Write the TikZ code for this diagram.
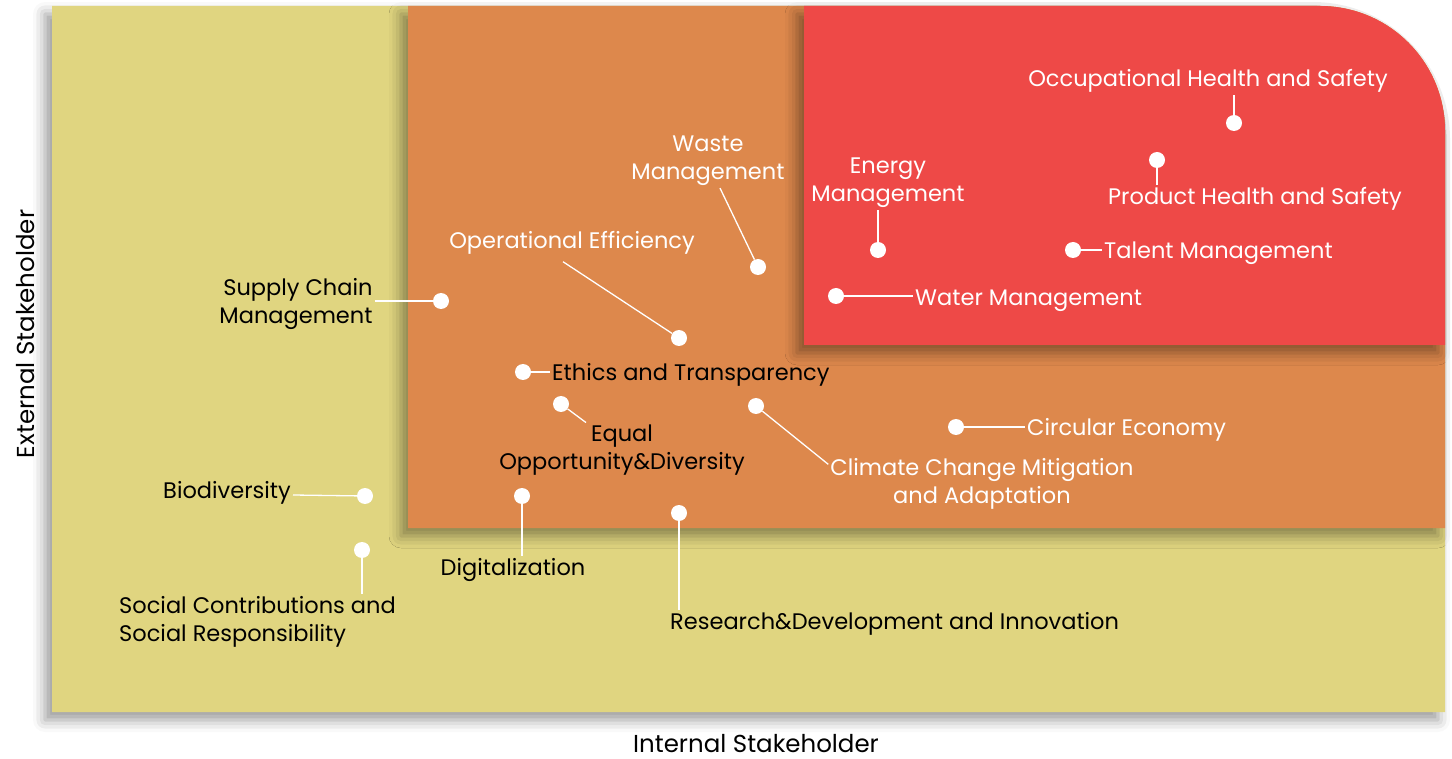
\documentclass[tikz,border=0pt]{standalone}
\usepackage{fontspec}
\setmainfont{Poppins}
\usetikzlibrary{shadows.blur}
\definecolor{matyellow}{HTML}{E0D580}
\definecolor{matorange}{HTML}{DD884C}
\definecolor{matred}{HTML}{EE4947}
\tikzset{
  dot/.style={circle, fill=white, inner sep=0pt, minimum size=16pt},
  lead/.style={white, line width=1.3pt},
  wlabel/.style={white, font=\fontsize{22.5}{28}\selectfont, align=center,
    inner sep=2pt, yshift=-3pt},
  blabel/.style={wlabel, black},
  axislabel/.style={black, font=\fontsize{24.5}{30}\selectfont, inner sep=0pt},
  boxshadow/.style={blur shadow={shadow xshift=-7pt, shadow yshift=-8pt,
    shadow blur radius=12pt, shadow opacity=40}}
}
\begin{document}
\begin{tikzpicture}[x=1pt, y=-1pt]
  \useasboundingbox (0,0) rectangle (1452,759);
  % areas
  \fill[matyellow, boxshadow] (52,712) -- (52,6) -- (1320,6)
    .. controls (1389,6) and (1445,62) .. (1445,131) -- (1445,712) -- cycle;
  \fill[matorange, boxshadow] (408,528) -- (408,6) -- (1320,6)
    .. controls (1389,6) and (1445,62) .. (1445,131) -- (1445,528) -- cycle;
  \fill[matred, boxshadow] (804,345) -- (804,6) -- (1320,6)
    .. controls (1389,6) and (1445,62) .. (1445,131) -- (1445,345) -- cycle;
  % axes
  \node[axislabel] (intl) at (756,744) {Internal Stakeholder};
  \node[axislabel, rotate=90] (extl) at (26,334) {External Stakeholder};
  % red area
  \node[dot] (ohsdot) at (1234,123) {};
  \node[wlabel] (ohs) at (1208,78) {Occupational Health and Safety};
  \draw[lead] (ohsdot) -- (ohsdot |- ohs.south);
  \node[dot] (phsdot) at (1157,160) {};
  \node[wlabel] (phs) at (1255,196) {Product Health and Safety};
  \draw[lead] (phsdot) -- (phsdot |- phs.north);
  \node[dot] (tmdot) at (1073,250) {};
  \node[wlabel, anchor=west] (tm) at (1102,250) {Talent Management};
  \draw[lead] (tmdot) -- (tmdot -| tm.west);
  \node[dot] (wmdot) at (836,296) {};
  \node[wlabel, anchor=west] (wm) at (913,298) {Water Management};
  \draw[lead] (wmdot) -- (wmdot -| wm.west);
  \node[dot] (enmdot) at (878,250) {};
  \node[wlabel] (enm) at (888,180) {Energy\\Management};
  \draw[lead] (enmdot) -- (enmdot |- enm.south);
  % orange area
  \node[dot] (wastedot) at (758,267) {};
  \node[wlabel] (waste) at (708,158) {Waste\\Management};
  \draw[lead] ([xshift=12pt]waste.south) -- (wastedot);
  \node[dot] (opeffdot) at (679,338) {};
  \node[wlabel] (opeff) at (572,240) {Operational Efficiency};
  \draw[lead] ([xshift=-9pt, yshift=-5pt]opeff.south) -- (opeffdot);
  \node[dot] (scmdot) at (441,301) {};
  \node[blabel, align=right] (scm) at (296,301) {Supply Chain\\Management};
  \draw[lead] (scmdot -| scm.east) -- (scmdot);
  \node[dot] (ethdot) at (523,372) {};
  \node[blabel, anchor=west] (eth) at (550,372) {Ethics and Transparency};
  \draw[lead] (ethdot) -- (ethdot -| eth.west);
  \node[dot] (eqopdot) at (561,404) {};
  \node[blabel] (eqop) at (622,447) {Equal\\Opportunity\&Diversity};
  \draw[lead] (eqopdot) -- ([xshift=-36pt]eqop.north);
  \node[dot] (climdot) at (756,406) {};
  \node[wlabel] (clim) at (982,481) {Climate Change Mitigation\\and Adaptation};
  \draw[lead] (climdot) -- ([yshift=-8pt]clim.north west);
  \node[dot] (circdot) at (956,427) {};
  \node[wlabel, anchor=west] (circ) at (1025,427) {Circular Economy};
  \draw[lead] (circdot) -- (circdot -| circ.west);
  \node[dot] (digdot) at (522,496) {};
  \node[blabel] (dig) at (513,567) {Digitalization};
  \draw[lead] (digdot) -- (digdot |- dig.north);
  \node[dot] (rnddot) at (679,513) {};
  \node[blabel, anchor=west] (rnd) at (668,621) {Research\&Development and Innovation};
  \draw[lead] (rnddot) -- (rnddot |- rnd.north);
  % yellow area
  \node[dot] (biodot) at (365,496) {};
  \node[blabel, anchor=east] (bio) at (293,490) {Biodiversity};
  \draw[lead] ([yshift=-2pt]bio.east) -- (biodot);
  \node[dot] (socdot) at (362,550) {};
  \node[blabel, anchor=west, align=left] (soc) at (117,619) {Social Contributions and\\Social Responsibility};
  \draw[lead] (socdot) -- (socdot |- soc.north);
\end{tikzpicture}
\end{document}
